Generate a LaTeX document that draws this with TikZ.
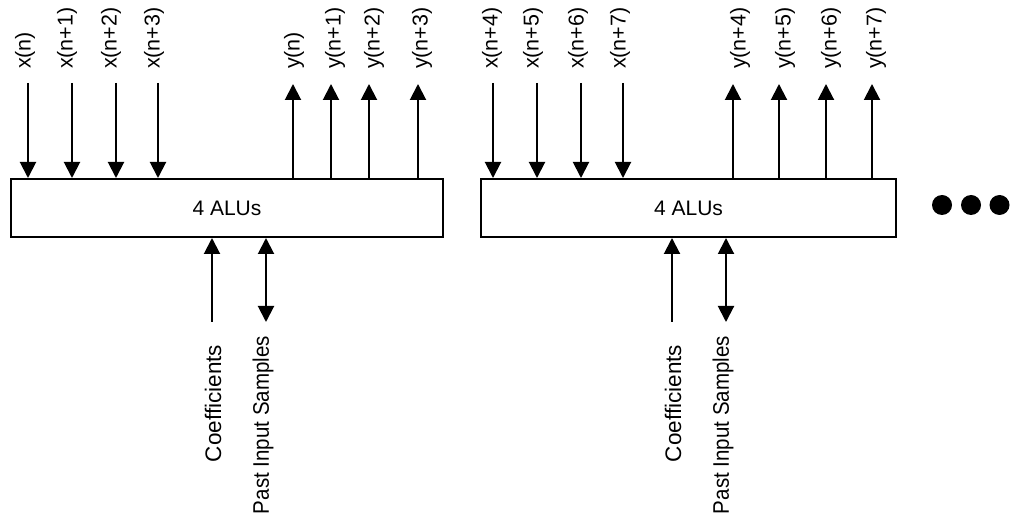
\documentclass[tikz,border=0pt]{standalone}
\usepackage{fontspec}
\setmainfont{Liberation Sans}
\usetikzlibrary{arrows.meta}
\begin{document}
\begin{tikzpicture}[x=1pt,y=-1pt,
  font=\fontsize{21}{25}\selectfont,
  line width=2pt,
  >={Triangle[length=16pt,width=16pt]},
  alu/.style={draw,rectangle,line width=2pt,minimum height=58pt,inner sep=0pt},
  sig/.style={rotate=90,anchor=west,inner sep=0pt,font=\fontsize{21.5}{25}\selectfont},
  port/.style={sig,font=\fontsize{22.5}{27}\selectfont},
  dot/.style={circle,fill=black,inner sep=0pt,minimum size=20pt}]
\useasboundingbox (0,0) rectangle (1014,526);

% the two ALU blocks
\node[alu,minimum width=432pt] (alu1) at (227,208) {4 ALUs};
\node[alu,minimum width=415pt] (alu2) at (688.5,208) {4 ALUs};

% inputs (downward) and outputs (upward), with their labels
\foreach \ax/\lx/\txt [count=\i] in
  {28/25/x(n), 72/67/x(n+1), 116/111/x(n+2), 158/154/x(n+3),
   493/492/x(n+4), 537/533/x(n+5), 581/578/x(n+6), 623/620/x(n+7)}{
  \pgfmathtruncatemacro\blk{\i<5 ? 1 : 2}
  \node[sig] (xl\i) at (\lx,70) {\txt};
  \coordinate (xs\i) at (\ax,83);
  \draw[->] (xs\i) -- (xs\i |- alu\blk.north);
}
\foreach \ax/\lx/\txt [count=\i] in
  {293/294/y(n), 331/335/y(n+1), 369/374/y(n+2), 418/422/y(n+3),
   733/740/y(n+4), 779/785/y(n+5), 826/831/y(n+6), 872/876/y(n+7)}{
  \pgfmathtruncatemacro\blk{\i<5 ? 1 : 2}
  \node[sig] (yl\i) at (\lx,70) {\txt};
  \coordinate (ye\i) at (\ax,84);
  \draw[->] (ye\i |- alu\blk.north) -- (ye\i);
}

% coefficient and past-sample ports under each block
\foreach \b/\cx/\clx/\px/\plx in {1/212/213/266/263, 2/672/673/726/723}{
  \coordinate (cs\b) at (\cx,322);
  \coordinate (ps\b) at (\px,322);
  \draw[->] (cs\b) -- (cs\b |- alu\b.south);
  \draw[<->] (ps\b |- alu\b.south) -- (ps\b);
  \node[port] (cl\b) at (\clx,463) {Coefficients};
  \node[port] (pl\b) at (\plx,515) {\scalebox{0.912}[1]{Past Input Samples}};
}

% continuation dots
\node[dot] (d1) at (942,205) {};
\node[dot] (d2) at (971,205) {};
\node[dot] (d3) at (999.5,205) {};
\end{tikzpicture}
\end{document}
